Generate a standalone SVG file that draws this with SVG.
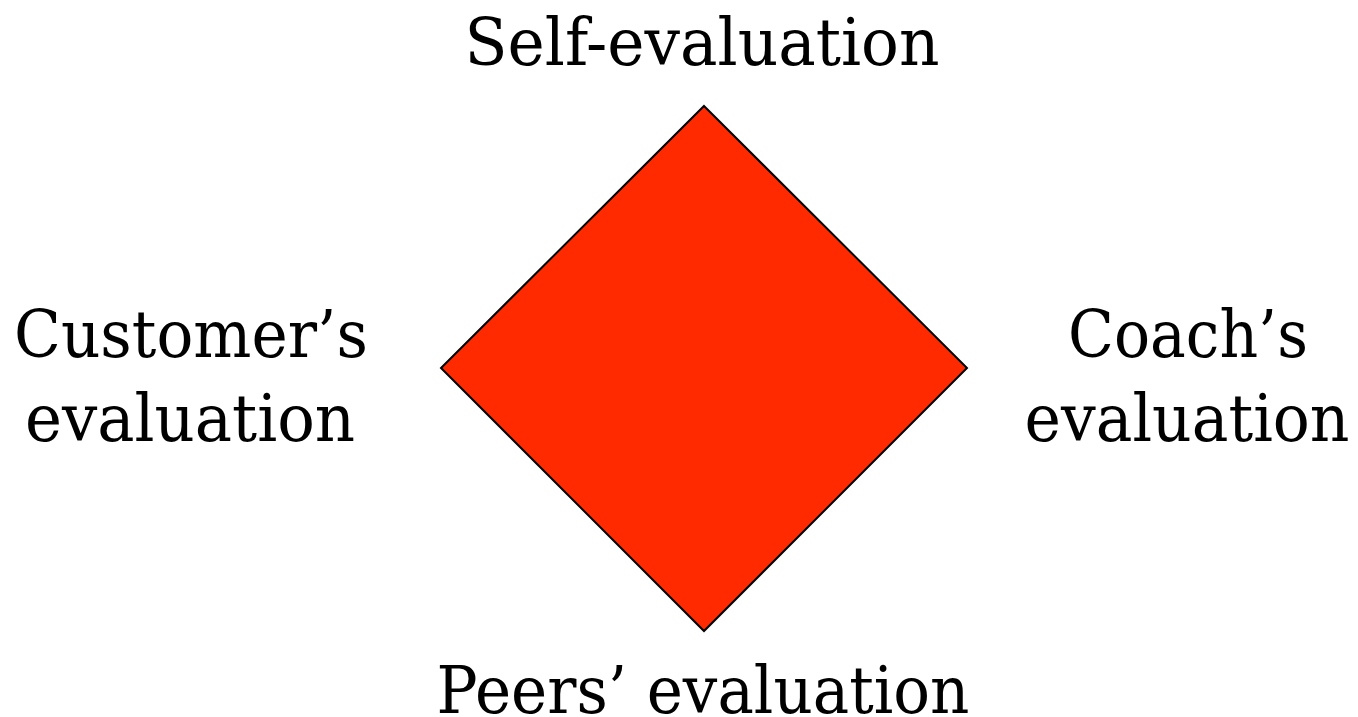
<svg xmlns="http://www.w3.org/2000/svg" width="1358" height="717" viewBox="0 0 1358 717">
<style>
text{font-family:"DejaVu Serif","Liberation Serif",serif;font-size:66px;fill:#000;text-anchor:middle}
</style>
<rect width="1358" height="717" fill="#fff"/>
<g id="diamond"><polygon points="704,106 967,368 704,631 441,368" fill="#FF2A00" stroke="#000" stroke-width="2"/></g>
<g id="self"><text x="702" y="65" textLength="475" lengthAdjust="spacingAndGlyphs">Self-evaluation</text></g>
<g id="customer"><text x="191" y="357" textLength="354" lengthAdjust="spacingAndGlyphs">Customer’s</text><text x="190" y="441" textLength="330" lengthAdjust="spacingAndGlyphs">evaluation</text></g>
<g id="coach"><text x="1188" y="357" textLength="240" lengthAdjust="spacingAndGlyphs">Coach’s</text><text x="1187" y="441" textLength="325" lengthAdjust="spacingAndGlyphs">evaluation</text></g>
<g id="peers"><text x="703" y="713" textLength="533" lengthAdjust="spacingAndGlyphs">Peers’ evaluation</text></g>
<g id="connectors"></g>
</svg>
